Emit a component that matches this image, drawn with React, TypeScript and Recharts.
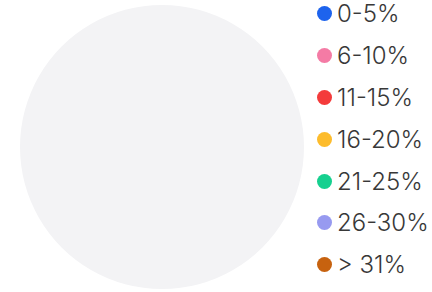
import { Legend, Pie, PieChart } from "recharts";

const categories = ["0-5%", "6-10%", "11-15%", "16-20%", "21-25%", "26-30%", "> 31%"];
const values = [0, 0, 0, 0, 0, 0, 0];
const colors = ["#1d63ed", "#f47ba5", "#f43b3b", "#fdbc2c", "#16d08f", "#979af0", "#c7620f"];

const total = values.reduce((s, v) => s + v, 0);
const data = categories.map((name, i) => ({ name, value: values[i], fill: colors[i] }));
const emptyData = [{ name: "empty", value: 1, fill: "#f3f3f5" }];

function RangeLegend() {
  return (
    <div style={{ fontFamily: "Inter, sans-serif" }}>
      {categories.map((name, i) => (
        <div key={name} style={{ display: "flex", alignItems: "center", height: 41.8 }}>
          <span
            style={{
              width: 15,
              height: 15,
              borderRadius: "50%",
              background: colors[i],
              marginRight: 5,
              flexShrink: 0,
            }}
          />
          <span style={{ fontSize: 24, color: "#383838", fontWeight: 300 }}>{name}</span>
        </div>
      ))}
    </div>
  );
}

export default function App() {
  return (
    <div style={{ position: "absolute", left: 0, top: 0, background: "#fff" }}>
      <PieChart width={432} height={292} margin={{ top: 0, right: 0, bottom: 0, left: 0 }}>
        <Pie
          data={total > 0 ? data : emptyData}
          dataKey="value"
          cx={162}
          cy={147}
          outerRadius={142}
          stroke="none"
          isAnimationActive={false}
        />
        <Legend
          layout="vertical"
          align="right"
          verticalAlign="top"
          content={() => <RangeLegend />}
          wrapperStyle={{ left: 317, top: -7, width: 115 }}
        />
      </PieChart>
    </div>
  );
}
